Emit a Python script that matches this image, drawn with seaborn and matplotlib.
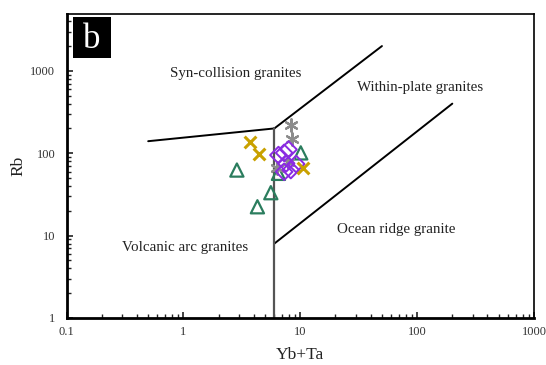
import numpy as np
import pandas as pd
import matplotlib
matplotlib.use("Agg")
import matplotlib.pyplot as plt
import seaborn as sns
from matplotlib.patches import Rectangle
from matplotlib.ticker import LogLocator, NullFormatter, FixedLocator, FixedFormatter

# ---- data ----
gold_x = [3.72, 4.48, 10.5]
gold_y = [136, 98, 65.6]

gray_x = [8.3, 8.58, 7.93, 6.3]
gray_y = [220, 147, 79, 65.6]

purple_x = [7.93, 7.28, 6.51, 7.57, 9.22, 7.28, 8.3]
purple_y = [111, 101, 95, 75.4, 74, 59.6, 62.5]

green_x = [2.87, 10.1, 6.51, 5.6, 4.3]
green_y = [62.5, 101, 57, 33.2, 22.4]

# discrimination boundaries (Pearce et al. 1984)
line_syn_x = [0.5, 6]
line_syn_y = [140, 200]
line_wpg_x = [6, 50]
line_wpg_y = [200, 2000]
line_org_x = [6, 200]
line_org_y = [8, 400]
line_vert_x = [6, 6]
line_vert_y = [1, 200]

xtick_vals = [0.1, 1, 10, 100, 1000]
xtick_labels = ["0.1", "1", "10", "100", "1000"]
ytick_vals = [1, 10, 100, 1000]
ytick_labels = ["1", "10", "100", "1000"]

field_labels = ["Syn-collision granites", "Within-plate granites",
                "Ocean ridge granite", "Volcanic arc granites"]

# ---- style ----
sns.set_theme(style="ticks")
plt.rcParams["font.family"] = ["Liberation Serif", "DejaVu Serif"]

W, H = 546, 365
fig = plt.figure(figsize=(W / 100, H / 100), dpi=100)
L, R, B, T = 66.5, 534, 318, 14
ax = fig.add_axes([L / W, 1 - B / H, (R - L) / W, (B - T) / H])

# boundaries
for lx, ly, lc, lw in [(line_syn_x, line_syn_y, "black", 1.4),
                       (line_wpg_x, line_wpg_y, "black", 1.4),
                       (line_org_x, line_org_y, "black", 1.4),
                       (line_vert_x, line_vert_y, "#555555", 1.6)]:
    sns.lineplot(x=lx, y=ly, ax=ax, color=lc, lw=lw, sort=False,
                 estimator=None, errorbar=None)

# data points
c_green = "#2B7D5E"
c_purple = "#8A2BE2"
c_gold = "#C9A100"
c_gray = "#8C8C8C"

sns.scatterplot(x=green_x, y=green_y, ax=ax, marker="^", s=90, color=c_green,
                facecolors="none", edgecolor=c_green, linewidth=1.6, zorder=3)
sns.scatterplot(x=gray_x, y=gray_y, ax=ax, marker=(6, 2, 0), s=80, color=c_gray,
                linewidth=1.6, zorder=3)
sns.scatterplot(x=purple_x, y=purple_y, ax=ax, marker="D", s=72, color=c_purple,
                facecolors="none", edgecolor=c_purple, linewidth=1.4, zorder=4)
sns.scatterplot(x=gold_x, y=gold_y, ax=ax, marker="x", s=72, color=c_gold,
                linewidth=2.2, zorder=4)

ax.set_xscale("log")
ax.set_yscale("log")
ax.set_xlim(0.1, 1000)
ax.set_ylim(1, 4900)

ax.xaxis.set_major_locator(FixedLocator(xtick_vals))
ax.xaxis.set_major_formatter(FixedFormatter(xtick_labels))
ax.yaxis.set_major_locator(FixedLocator(ytick_vals))
ax.yaxis.set_major_formatter(FixedFormatter(ytick_labels))
ax.xaxis.set_minor_locator(LogLocator(base=10, subs=np.arange(2, 10), numticks=20))
ax.yaxis.set_minor_locator(LogLocator(base=10, subs=np.arange(2, 10), numticks=20))
ax.xaxis.set_minor_formatter(NullFormatter())
ax.yaxis.set_minor_formatter(NullFormatter())

ax.tick_params(axis="both", which="both", bottom=True, left=True, top=False, right=False)
ax.tick_params(axis="both", which="major", direction="in", length=4, width=1.2,
               labelsize=9, colors="#222222", labelcolor="#333333")
ax.tick_params(axis="x", which="major", pad=6)
ax.tick_params(axis="y", which="major", pad=8)
ax.tick_params(axis="both", which="minor", direction="in", length=3, width=1.0,
               colors="#222222")

for side, lw in [("left", 2.0), ("bottom", 2.0), ("top", 1.2), ("right", 1.2)]:
    ax.spines[side].set_visible(True)
    ax.spines[side].set_linewidth(lw)
    ax.spines[side].set_color("black")

ax.set_xlabel("Yb+Ta", fontsize=12.5, color="#222222", labelpad=6)
ax.set_ylabel("Rb", fontsize=12.5, color="#222222", labelpad=3)

def axfrac(px, py):
    return (px - L) / (R - L), (B - py) / (B - T)

for lab, (px, py) in zip(field_labels, [(236, 73), (420, 88), (396, 229), (185, 247)]):
    fx, fy = axfrac(px, py)
    ax.text(fx, fy, lab, transform=ax.transAxes, ha="center", va="center",
            fontsize=10.8, color="#222222")

# panel label "b"
x0, y0 = axfrac(73, 58)
x1, y1 = axfrac(111, 17)
ax.add_patch(Rectangle((x0, y0), x1 - x0, y1 - y0, transform=ax.transAxes,
                       facecolor="black", edgecolor="none", zorder=5))
ax.text((x0 + x1) / 2, (y0 + y1) / 2 - 0.005, "b", transform=ax.transAxes,
        ha="center", va="center", fontsize=25, color="white", zorder=6)

fig.savefig("out.png", dpi=100)
